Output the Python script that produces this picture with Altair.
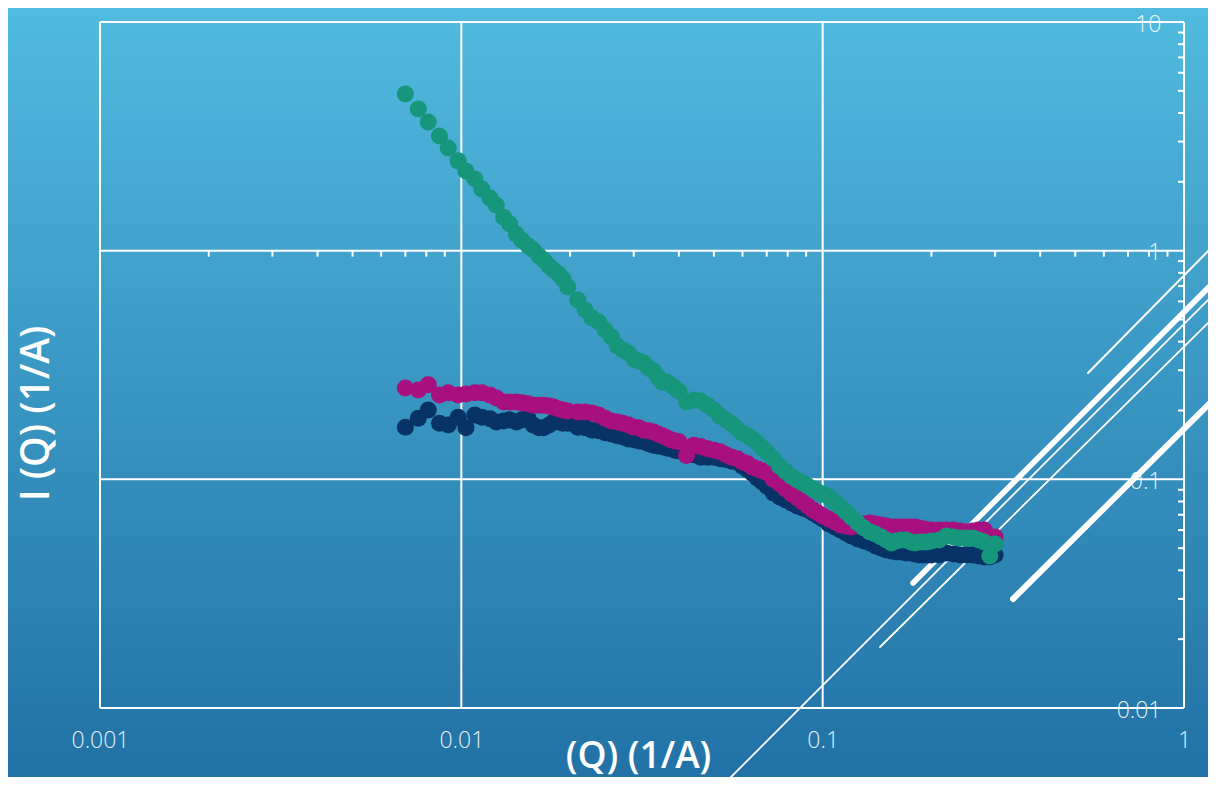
import altair as alt
import pandas as pd

# ---------------- data ----------------
Q = [0.0070, 0.0076, 0.0081, 0.0087, 0.0092, 0.0098, 0.0103, 0.0109, 0.0114, 0.0120,
     0.0125, 0.0131, 0.0136, 0.0142, 0.0147, 0.0153, 0.0158, 0.0164, 0.0169, 0.0175,
     0.0180, 0.0186, 0.0191, 0.0197,
     0.021, 0.022, 0.023, 0.024, 0.025, 0.026, 0.027, 0.028, 0.029, 0.030,
     0.031, 0.032, 0.033, 0.034, 0.035, 0.036, 0.037, 0.038, 0.039, 0.040,
     0.042, 0.044, 0.046, 0.048, 0.050, 0.052, 0.054, 0.056, 0.058, 0.060,
     0.062, 0.064, 0.066, 0.068, 0.070,
     0.073, 0.076, 0.079, 0.082, 0.085, 0.088, 0.091, 0.094, 0.097, 0.100,
     0.104, 0.108, 0.112, 0.116, 0.120,
     0.125, 0.130, 0.135, 0.140, 0.145, 0.150, 0.155, 0.160, 0.165, 0.170,
     0.175, 0.180, 0.185, 0.190, 0.195, 0.200,
     0.21, 0.22, 0.23, 0.24, 0.25, 0.26, 0.27, 0.28, 0.29, 0.30]

I_GREEN = [4.84, 4.16, 3.65, 3.17, 2.81, 2.47, 2.23, 2.06, 1.86, 1.70,
           1.58, 1.40, 1.31, 1.18, 1.11, 1.05, 1.01, 0.948, 0.910, 0.857,
           0.823, 0.791, 0.752, 0.694,
           0.609, 0.550, 0.508, 0.488, 0.450, 0.419, 0.383, 0.368, 0.357, 0.336,
           0.329, 0.323, 0.307, 0.298, 0.280, 0.266, 0.266, 0.259, 0.251, 0.243,
           0.218, 0.222, 0.220, 0.211, 0.201, 0.189, 0.182, 0.175, 0.166, 0.159,
           0.155, 0.150, 0.144, 0.137, 0.132,
           0.123, 0.114, 0.108, 0.103, 0.0993, 0.0964, 0.0935, 0.0907, 0.0880, 0.0863,
           0.0837, 0.0796, 0.0757, 0.0720, 0.0684,
           0.0644, 0.0612, 0.0589, 0.0577, 0.0560, 0.0543, 0.0527, 0.0537, 0.0543, 0.0543,
           0.0532, 0.0527, 0.0532, 0.0532, 0.0532, 0.0537,
           0.0543, 0.0565, 0.0560, 0.0554, 0.0554, 0.0554, 0.0543, 0.0532, 0.0462, 0.0521]

I_MAGENTA = [0.251, 0.246, 0.259, 0.234, 0.239, 0.234, 0.236, 0.239, 0.239, 0.234,
             0.227, 0.218, 0.218, 0.218, 0.216, 0.214, 0.211, 0.211, 0.211, 0.209,
             0.207, 0.203, 0.201, 0.199,
             0.197, 0.197, 0.195, 0.191, 0.185, 0.180, 0.178, 0.176, 0.173, 0.169,
             0.168, 0.164, 0.163, 0.161, 0.158, 0.155, 0.152, 0.149, 0.147, 0.146,
             0.127, 0.141, 0.139, 0.136, 0.134, 0.132, 0.128, 0.125, 0.123, 0.119,
             0.117, 0.113, 0.111, 0.109, 0.107,
             0.100, 0.0954, 0.0907, 0.0863, 0.0829, 0.0796, 0.0764, 0.0734, 0.0713, 0.0691,
             0.0671, 0.0651, 0.0632, 0.0625, 0.0619,
             0.0625, 0.0638, 0.0644, 0.0638, 0.0632, 0.0625, 0.0619, 0.0619, 0.0619, 0.0619,
             0.0619, 0.0619, 0.0612, 0.0607, 0.0601, 0.0601,
             0.0601, 0.0601, 0.0601, 0.0594, 0.0589, 0.0594, 0.0601, 0.0601, 0.0516, 0.0560]

I_NAVY = [0.169, 0.185, 0.201, 0.176, 0.173, 0.187, 0.168, 0.191, 0.187, 0.184,
          0.178, 0.180, 0.182, 0.178, 0.182, 0.185, 0.173, 0.168, 0.168, 0.173,
          0.178, 0.178, 0.176, 0.176,
          0.169, 0.168, 0.164, 0.163, 0.160, 0.158, 0.155, 0.153, 0.150, 0.149,
          0.147, 0.146, 0.143, 0.141, 0.140, 0.139, 0.137, 0.136, 0.134, 0.133,
          0.130, 0.128, 0.125, 0.125, 0.125, 0.123, 0.122, 0.120, 0.119, 0.114,
          0.110, 0.106, 0.101, 0.0974, 0.0935,
          0.0872, 0.0837, 0.0812, 0.0788, 0.0764, 0.0749, 0.0734, 0.0713, 0.0691, 0.0671,
          0.0638, 0.0619, 0.0601, 0.0583, 0.0565,
          0.0548, 0.0537, 0.0527, 0.0511, 0.0501, 0.0491, 0.0486, 0.0481, 0.0481, 0.0476,
          0.0476, 0.0472, 0.0467, 0.0467, 0.0467, 0.0467,
          0.0467, 0.0476, 0.0472, 0.0467, 0.0467, 0.0467, 0.0462, 0.0457, 0.0457, 0.0467]

X_TICKS = [0.001, 0.01, 0.1, 1]
Y_TICKS = [0.01, 0.1, 1, 10]
X_MINOR = [0.002, 0.003, 0.004, 0.005, 0.006, 0.007, 0.008, 0.009,
           0.02, 0.03, 0.04, 0.05, 0.06, 0.07, 0.08, 0.09,
           0.2, 0.3, 0.4, 0.5, 0.6, 0.7, 0.8, 0.9]
Y_MINOR = [0.02, 0.03, 0.04, 0.05, 0.06, 0.07, 0.08, 0.09,
           0.2, 0.3, 0.4, 0.5, 0.6, 0.7, 0.8, 0.9,
           2, 3, 4, 5, 6, 7, 8, 9]

X_TITLE = "(Q) (1/A)"
Y_TITLE = "I (Q) (1/A)"

# ---------------- styling ----------------
W, H = 1084, 686
LABEL_FONT = "Open Sans"
TITLE_FONT = "Open Sans"
C_GREEN, C_MAGENTA, C_NAVY = "#16967a", "#a8107f", "#083366"
DOT = 290

x_scale = alt.Scale(type="log", domain=[0.001, 1], nice=False)
y_scale = alt.Scale(type="log", domain=[0.01, 10], nice=False)

x_axis = alt.Axis(values=X_TICKS, format="~g", grid=False, domain=False, ticks=False,
                  labelFlush=False, labelFont=LABEL_FONT, labelFontWeight=300,
                  labelFontSize=23, labelColor="#ffffff", labelOpacity=0.9,
                  labelPadding=32, labelBaseline="middle", labelOverlap=False,
                  title=X_TITLE, titleFont=TITLE_FONT, titleFontWeight=600,
                  titleFontSize=37, titleColor="#ffffff", titleX=538, titleY=48,
                  titleAlign="center", titleBaseline="middle", zindex=1)

y_axis = alt.Axis(orient="right", values=Y_TICKS, format="~g", grid=False, domain=False,
                  ticks=False, labelFlush=False, labelFont=LABEL_FONT, labelFontWeight=300,
                  labelFontSize=23, labelColor="#ffffff", labelOpacity=0.9,
                  labelAlign="right", labelBaseline="middle", labelPadding=-23,
                  labelOffset=2, labelOverlap=False,
                  title=Y_TITLE, titleFont=TITLE_FONT, titleFontWeight=600,
                  titleFontSize=39, titleColor="#ffffff", titleAngle=270,
                  titleX=-1148, titleY=391, titleAlign="center", titleBaseline="middle",
                  zindex=1)


def X(field):
    return alt.X(field, scale=x_scale, axis=x_axis)


def Y(field):
    return alt.Y(field, scale=y_scale, axis=y_axis)


dummy = pd.DataFrame({"a": [0]})

gradient = alt.LinearGradient(
    gradient="linear",
    stops=[alt.GradientStop(color="#52bce0", offset=0),
           alt.GradientStop(color="#1f6ea3", offset=1)],
    x1=0, x2=0, y1=0, y2=1)

bg = alt.Chart(dummy).mark_rect(fill=gradient, strokeWidth=0).encode(
    x=alt.value(-100), x2=alt.value(1200), y=alt.value(-30), y2=alt.value(790))

# decorative white diagonal strokes (pixel style, not data)
DECOR = [(988, 351, 1116, 221, 2), (813, 561, 1116, 258, 5.5), (622, 764, 1116, 270, 1.8),
         (780, 625, 1116, 293, 1.8), (913, 577, 1116, 375, 6)]
decor = [alt.Chart(dummy).mark_rule(color="white", strokeWidth=w, strokeCap="round").encode(
    x=alt.value(a), y=alt.value(b), x2=alt.value(c), y2=alt.value(d)) for a, b, c, d, w in DECOR]

grid_x = alt.Chart(pd.DataFrame({"gx": X_TICKS})).mark_rule(color="white", strokeWidth=2).encode(
    x=X("gx:Q"))
grid_y = alt.Chart(pd.DataFrame({"gy": Y_TICKS})).mark_rule(color="white", strokeWidth=2).encode(
    y=Y("gy:Q"))

minor_x = alt.Chart(pd.DataFrame({"mx": X_MINOR})).mark_rule(
    color="white", strokeWidth=2, y2Offset=6).encode(
    x=X("mx:Q"), y=alt.YDatum(1, scale=y_scale, axis=y_axis), y2=alt.datum(1))
minor_y = alt.Chart(pd.DataFrame({"my": Y_MINOR})).mark_rule(
    color="white", strokeWidth=2, x2Offset=-6).encode(
    y=Y("my:Q"), x=alt.XDatum(1, scale=x_scale, axis=x_axis), x2=alt.datum(1))


def series(vals, color):
    return alt.Chart(pd.DataFrame({"q": Q, "i": vals})).mark_circle(
        size=DOT, opacity=1, color=color).encode(x=X("q:Q"), y=Y("i:Q"))


chart = alt.layer(
    bg, *decor, grid_x, grid_y, minor_x, minor_y,
    series(I_NAVY, C_NAVY), series(I_MAGENTA, C_MAGENTA), series(I_GREEN, C_GREEN)
).properties(
    width=W, height=H,
    padding={"left": 92, "top": 14, "right": 24, "bottom": 69},
    autosize=alt.AutoSizeParams(type="none"),
).configure(background="#2f86b8").configure_view(stroke=None)

chart.save("out.html", embed_options={"renderer": "svg", "actions": False})
